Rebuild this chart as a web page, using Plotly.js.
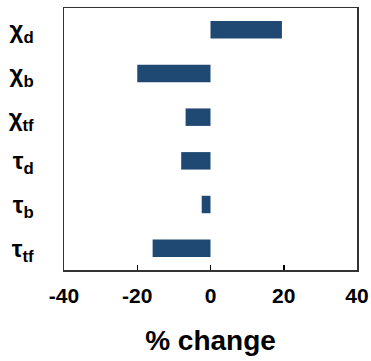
<!DOCTYPE html>
<html>
<head>
<meta charset="utf-8">
<script src="https://cdn.plot.ly/plotly-3.0.1.min.js"></script>
<style>
  html, body { margin: 0; padding: 0; background: #fff; }
  #chart { width: 371px; height: 361px; }
</style>
</head>
<body>
<div id="chart"></div>
<script>
// Parameters, listed top to bottom
const params = ['χ<sub>d</sub>', 'χ<sub>b</sub>', 'χ<sub>tf</sub>', 'τ<sub>d</sub>', 'τ<sub>b</sub>', 'τ<sub>tf</sub>'];
// Percent change for each parameter
const pctChange = [19.5, -20, -6.8, -8, -2.4, -15.8];
// Tick values along the x axis
const xTicks = [-40, -20, 0, 20, 40];

const bold = { family: 'Liberation Sans, Arial, sans-serif', weight: 'bold', color: '#000' };

const trace = {
  type: 'bar',
  orientation: 'h',
  y: params,
  x: pctChange,
  width: 0.4,
  marker: { color: '#1f4872', line: { width: 0 } },
  hoverinfo: 'skip'
};

const layout = {
  width: 371,
  height: 361,
  margin: { l: 64, r: 14, t: 8, b: 91 },
  paper_bgcolor: '#fff',
  plot_bgcolor: '#fff',
  showlegend: false,
  xaxis: {
    range: [-40, 40],
    tickvals: xTicks,
    ticktext: xTicks.map(String),
    ticks: 'inside',
    ticklen: 5,
    tickwidth: 1.5,
    tickcolor: '#000',
    showline: true,
    mirror: true,
    linecolor: '#333',
    linewidth: 1.5,
    showgrid: false,
    zeroline: false,
    tickfont: Object.assign({ size: 21 }, bold),
    ticklabelstandoff: 6,
    title: { text: '% change', font: Object.assign({ size: 28 }, bold), standoff: 24 }
  },
  yaxis: {
    type: 'category',
    range: [5.5, -0.5],
    ticks: '',
    showline: true,
    mirror: true,
    linecolor: '#333',
    linewidth: 1.5,
    showgrid: false,
    zeroline: false,
    tickfont: Object.assign({ size: 24 }, bold),
    ticklabelstandoff: 24
  }
};

Plotly.newPlot('chart', [trace], layout, { displayModeBar: false, staticPlot: true });
</script>
</body>
</html>
